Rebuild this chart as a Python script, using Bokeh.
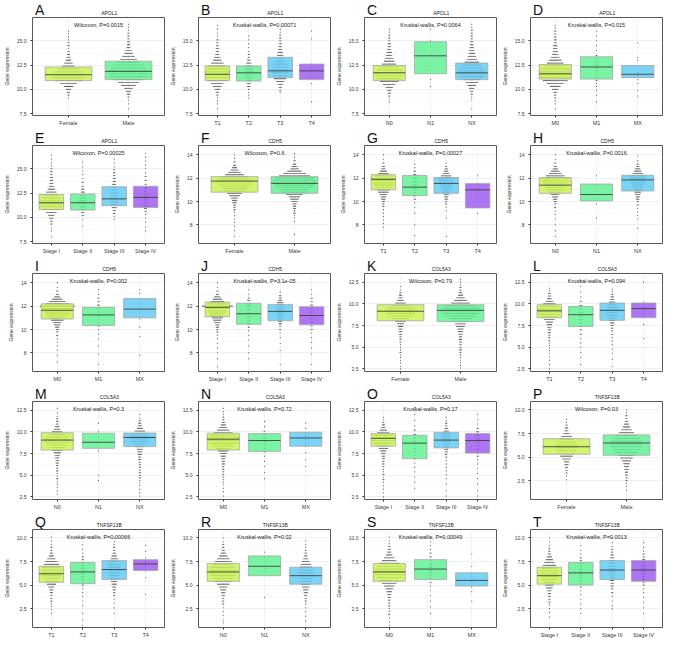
from bokeh.plotting import figure
from bokeh.layouts import gridplot
from bokeh.models import Label, FixedTicker, Range1d, NumeralTickFormatter
from bokeh.core.properties import value
from bokeh.embed import file_html
from bokeh.resources import INLINE

# ---------------- categories ----------------
SEX = ["Female", "Male"]
TCAT = ["T1", "T2", "T3", "T4"]
NCAT = ["N0", "N1", "NX"]
MCAT = ["M0", "M1", "MX"]
STAGE = ["Stage I", "Stage II", "Stage III", "Stage IV"]

# ---------------- y axes per gene ----------------
APOL1_range = [7.3, 17.4]
APOL1_ticks = [7.5, 10.0, 12.5, 15.0]
CDH5_range = [6.4, 14.8]
CDH5_ticks = [8, 10, 12, 14]
COL5A3_range = [2.2, 13.5]
COL5A3_ticks = [2.5, 5.0, 7.5, 10.0, 12.5]
TNF_range = [0.5, 10.9]
TNF_ticks = [2.5, 5.0, 7.5, 10.0]

# ---------------- box stats (q1, median, q3) per panel ----------------
A_q1 = [10.9, 11.0];  A_med = [11.5, 11.85];  A_q3 = [12.3, 12.9]
B_q1 = [10.9, 10.85, 11.2, 11.0];  B_med = [11.55, 11.7, 11.9, 11.9];  B_q3 = [12.4, 12.4, 13.3, 12.6]
C_q1 = [10.9, 11.6, 11.0];  C_med = [11.7, 13.45, 11.7];  C_q3 = [12.45, 14.9, 12.7]
D_q1 = [11.05, 11.05, 11.2];  D_med = [11.6, 12.3, 11.55];  D_q3 = [12.55, 13.35, 12.45]
E_q1 = [10.8, 10.75, 11.2, 11.0];  E_med = [11.5, 11.5, 11.9, 12.05];  E_q3 = [12.35, 12.4, 13.15, 13.2]
F_q1 = [10.8, 10.7];  F_med = [11.75, 11.55];  F_q3 = [12.13, 12.13]
G_q1 = [11.0, 10.5, 10.7, 9.45];  G_med = [11.9, 11.23, 11.55, 11.0];  G_q3 = [12.3, 12.23, 12.05, 11.55]
H_q1 = [10.7, 10.05, 10.9];  H_med = [11.4, 10.6, 11.85];  H_q3 = [12.05, 11.5, 12.25]
I_q1 = [10.9, 10.35, 11.0];  I_med = [11.65, 11.25, 11.75];  I_q3 = [12.2, 11.9, 12.65]
J_q1 = [11.1, 10.45, 10.75, 10.4];  J_med = [11.9, 11.35, 11.55, 11.2];  J_q3 = [12.35, 12.25, 12.15, 11.95]
K_q1 = [8.05, 7.95];  K_med = [9.15, 9.25];  K_q3 = [9.9, 9.9]
L_q1 = [8.4, 7.4, 8.1, 8.4];  L_med = [9.2, 8.75, 9.25, 9.45];  L_q3 = [9.9, 9.7, 10.1, 10.1]
M_q1 = [7.9, 8.1, 8.3];  M_med = [9.05, 8.8, 9.35];  M_q3 = [9.9, 9.85, 9.87]
N_q1 = [7.9, 7.75, 8.35];  N_med = [9.15, 9.0, 9.3];  N_q3 = [9.85, 9.8, 9.95]
O_q1 = [8.35, 6.9, 8.15, 7.55];  O_med = [9.25, 8.7, 9.05, 9.0];  O_q3 = [9.8, 9.6, 9.95, 9.8]
P_q1 = [5.3, 5.2];  P_med = [6.1, 6.5];  P_q3 = [6.95, 7.35]
Q_q1 = [5.3, 5.15, 5.6, 6.55];  Q_med = [6.2, 6.4, 6.65, 7.25];  Q_q3 = [7.0, 7.4, 7.6, 7.7]
R_q1 = [5.4, 6.0, 5.1];  R_med = [6.4, 7.0, 6.0];  R_q3 = [7.3, 8.1, 6.9]
S_q1 = [5.4, 5.6, 4.9];  S_med = [6.4, 6.7, 5.5];  S_q3 = [7.3, 7.7, 6.3]
T_q1 = [5.1, 5.0, 5.6, 5.4];  T_med = [6.0, 6.3, 6.6, 6.6];  T_q3 = [6.9, 7.4, 7.6, 7.6]

# ---------------- dot rows [value, count] per group ----------------
A_dots = [
    [[16.0,1],[15.7,1],[15.4,1],[15.1,1],[14.8,2],[14.5,2],[14.2,1],[13.9,2],[13.6,3],[13.3,4],[13.0,5],[12.7,8],[12.4,12],[12.1,20],[11.8,26],[11.5,30],[11.2,32],[10.9,26],[10.6,16],[10.3,9],[10.0,5],[9.7,3],[9.4,2],[9.1,1]],
    [[16.7,1],[16.4,1],[16.1,1],[15.8,2],[15.5,2],[15.2,2],[14.9,3],[14.6,3],[14.3,4],[14.0,6],[13.7,8],[13.4,12],[13.1,16],[12.8,22],[12.5,28],[12.2,34],[11.9,40],[11.6,40],[11.3,36],[11.0,28],[10.7,20],[10.4,14],[10.1,8],[9.8,5],[9.5,3],[9.2,2],[8.9,1],[8.5,1],[8.0,1]],
]
B_dots = [
    [[16.6,1],[16.2,1],[15.8,1],[15.5,1],[15.1,2],[14.8,2],[14.5,2],[14.2,3],[13.9,3],[13.6,4],[13.3,6],[13.0,8],[12.7,12],[12.4,16],[12.1,20],[11.8,24],[11.5,24],[11.2,22],[10.9,18],[10.6,12],[10.3,8],[10.0,5],[9.7,3],[9.4,2],[9.1,1],[8.8,1],[8.5,1],[8.0,1]],
    [[15.5,1],[15.1,1],[14.7,1],[14.3,1],[13.9,1],[13.6,2],[13.3,2],[13.0,3],[12.7,5],[12.4,7],[12.1,8],[11.8,9],[11.5,8],[11.2,7],[10.9,6],[10.6,4],[10.3,3],[10.0,2],[9.7,1],[9.4,1],[9.1,1]],
    [[16.2,1],[15.9,1],[15.6,2],[15.3,2],[15.0,2],[14.7,3],[14.4,3],[14.1,4],[13.8,5],[13.5,6],[13.2,8],[12.9,10],[12.6,12],[12.3,14],[12.0,16],[11.7,16],[11.4,14],[11.1,12],[10.8,8],[10.5,5],[10.2,3],[9.9,2],[9.7,1]],
    [[16.0,1],[15.2,1],[12.6,1],[12.2,2],[11.9,2],[11.4,1],[10.6,1],[8.7,1]],
]
C_dots = [
    [[16.2,1],[15.9,1],[15.6,2],[15.3,2],[15.0,2],[14.7,3],[14.4,3],[14.1,4],[13.8,5],[13.5,6],[13.2,8],[12.9,10],[12.6,14],[12.3,20],[12.0,24],[11.7,28],[11.4,28],[11.1,24],[10.8,18],[10.5,12],[10.2,7],[9.9,4],[9.6,3],[9.3,2],[9.0,1],[8.7,1]],
    [[16.2,1],[15.0,1],[14.4,1],[13.6,1],[12.7,1],[12.0,1],[11.0,1],[10.3,1]],
    [[16.7,1],[16.4,1],[16.1,2],[15.8,2],[15.5,2],[15.2,2],[14.9,3],[14.6,3],[14.3,4],[14.0,5],[13.7,6],[13.4,8],[13.1,10],[12.8,14],[12.5,18],[12.2,22],[11.9,26],[11.6,26],[11.3,24],[11.0,18],[10.7,12],[10.4,8],[10.1,5],[9.8,3],[9.5,2],[9.2,1],[8.9,1],[8.0,1]],
]
D_dots = [
    [[16.6,1],[16.3,1],[16.0,2],[15.7,2],[15.4,2],[15.1,3],[14.8,3],[14.5,4],[14.2,4],[13.9,5],[13.6,6],[13.3,8],[13.0,12],[12.7,16],[12.4,22],[12.1,28],[11.8,32],[11.5,32],[11.2,30],[10.9,24],[10.6,16],[10.3,10],[10.0,6],[9.7,4],[9.4,2],[9.1,2],[8.8,1],[8.5,1],[8.0,1]],
    [[16.0,1],[15.5,1],[15.0,1],[14.5,1],[14.0,1],[13.5,2],[13.0,2],[12.8,2],[12.5,3],[12.2,3],[11.9,2],[11.5,2],[11.2,2],[10.9,2],[10.6,1],[10.3,1],[9.9,1],[9.4,1],[8.7,1]],
    [[14.8,1],[13.3,1],[13.0,1],[12.4,1],[11.7,2],[11.4,2],[11.0,1],[10.6,1],[9.9,1],[9.3,1]],
]
E_dots = [
    [[16.4,1],[16.0,1],[15.6,1],[15.3,1],[15.0,2],[14.7,2],[14.4,2],[14.1,3],[13.8,3],[13.5,4],[13.2,5],[12.9,7],[12.6,10],[12.3,14],[12.0,18],[11.7,22],[11.4,22],[11.1,20],[10.8,16],[10.5,10],[10.2,6],[9.9,4],[9.6,2],[9.3,2],[8.9,1],[8.6,1],[8.0,1]],
    [[15.7,1],[15.2,1],[14.8,1],[14.4,1],[14.0,1],[13.6,2],[13.2,2],[12.9,3],[12.6,4],[12.3,6],[12.0,7],[11.7,7],[11.4,7],[11.1,6],[10.8,5],[10.5,3],[10.2,2],[9.8,1],[9.1,1]],
    [[16.0,1],[15.6,1],[15.2,1],[14.9,2],[14.6,2],[14.3,2],[14.0,3],[13.7,3],[13.4,4],[13.1,5],[12.8,6],[12.5,7],[12.2,8],[11.9,9],[11.6,8],[11.3,7],[11.0,5],[10.7,3],[10.4,2],[10.1,1],[9.8,1]],
    [[16.6,1],[16.2,1],[15.8,1],[15.4,1],[15.0,1],[14.6,1],[14.2,2],[13.8,2],[13.4,2],[13.0,3],[12.7,3],[12.4,4],[12.1,5],[11.8,4],[11.5,4],[11.2,4],[10.9,3],[10.6,2],[10.3,1],[9.9,1],[9.5,1],[9.0,1],[8.6,1]],
]
F_dots = [
    [[14.0,1],[13.7,1],[13.4,2],[13.1,3],[12.9,5],[12.7,8],[12.5,12],[12.3,18],[12.1,26],[11.9,32],[11.7,34],[11.5,32],[11.3,28],[11.1,24],[10.9,20],[10.7,14],[10.5,10],[10.3,7],[10.1,5],[9.9,4],[9.7,3],[9.5,2],[9.3,2],[9.1,1],[8.8,1],[8.5,1],[8.2,1],[7.9,1],[7.5,1],[7.0,1]],
    [[14.1,1],[13.8,1],[13.5,2],[13.2,3],[13.0,5],[12.8,8],[12.6,14],[12.4,22],[12.2,30],[12.0,38],[11.8,42],[11.6,42],[11.4,38],[11.2,34],[11.0,28],[10.8,22],[10.6,16],[10.4,11],[10.2,8],[10.0,6],[9.8,4],[9.6,3],[9.4,3],[9.2,2],[9.0,2],[8.8,1],[8.6,1],[8.3,1],[7.2,1]],
]
G_dots = [
    [[14.0,1],[13.6,1],[13.3,2],[13.0,3],[12.8,4],[12.6,7],[12.4,10],[12.2,16],[12.0,24],[11.8,22],[11.6,20],[11.4,18],[11.2,16],[11.0,13],[10.8,10],[10.6,7],[10.4,5],[10.2,4],[10.0,3],[9.8,2],[9.6,2],[9.3,1],[9.0,1],[8.7,1],[8.4,1],[8.1,1],[7.8,1]],
    [[13.2,1],[12.9,1],[12.6,2],[12.3,3],[12.0,4],[11.7,4],[11.4,4],[11.1,4],[10.8,3],[10.5,3],[10.2,2],[9.9,1],[9.5,1],[9.0,1],[8.0,1],[7.1,1]],
    [[13.3,1],[13.0,2],[12.8,3],[12.6,4],[12.4,6],[12.2,10],[12.0,14],[11.8,14],[11.6,14],[11.4,12],[11.2,10],[11.0,9],[10.8,7],[10.6,5],[10.4,4],[10.2,3],[10.0,2],[9.8,2],[9.5,1],[9.2,1],[8.6,1],[7.0,1]],
    [[12.2,1],[11.5,1],[11.1,1],[10.5,1],[9.0,1]],
]
H_dots = [
    [[14.0,1],[13.6,1],[13.3,2],[13.0,3],[12.8,5],[12.6,8],[12.4,12],[12.2,18],[12.0,26],[11.8,26],[11.6,24],[11.4,22],[11.2,20],[11.0,16],[10.8,12],[10.6,8],[10.4,6],[10.2,4],[10.0,3],[9.8,2],[9.5,2],[9.2,1],[8.9,1],[8.5,1],[8.0,1],[7.5,1],[7.0,1]],
    [[12.2,1],[11.4,1],[10.9,1],[10.6,1],[10.3,1],[9.8,1],[8.6,1]],
    [[13.9,1],[13.5,1],[13.2,2],[13.0,3],[12.8,5],[12.6,7],[12.4,10],[12.2,14],[12.0,16],[11.8,16],[11.6,14],[11.4,12],[11.2,10],[11.0,8],[10.8,6],[10.6,5],[10.4,4],[10.2,3],[10.0,2],[9.7,2],[9.4,1],[9.1,1],[8.8,1],[8.5,1],[7.7,1]],
]
I_dots = [
    [[14.0,1],[13.6,1],[13.3,2],[13.0,3],[12.8,6],[12.6,10],[12.4,16],[12.2,22],[12.0,34],[11.8,28],[11.6,26],[11.4,24],[11.2,20],[11.0,16],[10.8,12],[10.6,8],[10.4,6],[10.2,4],[10.0,3],[9.8,2],[9.5,2],[9.2,1],[8.9,1],[8.6,1],[8.2,1],[7.8,1],[7.2,1]],
    [[13.4,1],[13.0,1],[12.7,2],[12.4,2],[12.1,3],[11.8,3],[11.5,3],[11.2,3],[10.9,2],[10.6,2],[10.3,2],[10.0,1],[9.6,1],[9.2,1],[8.6,1],[7.9,1],[7.0,1]],
    [[13.4,1],[13.1,1],[12.6,1],[12.2,1],[11.8,1],[11.5,1],[10.9,1],[10.2,1],[9.4,1],[7.8,1]],
]
J_dots = [
    [[14.0,1],[13.6,1],[13.3,2],[13.0,3],[12.8,6],[12.6,9],[12.4,13],[12.2,18],[12.0,30],[11.8,20],[11.6,18],[11.4,16],[11.2,14],[11.0,11],[10.8,8],[10.6,6],[10.4,4],[10.2,3],[10.0,2],[9.8,2],[9.5,1],[9.2,1],[8.8,1],[8.4,1],[8.0,1],[7.5,1],[6.8,1]],
    [[13.4,1],[13.0,1],[12.7,2],[12.5,3],[12.2,4],[12.0,4],[11.7,4],[11.4,4],[11.1,4],[10.8,3],[10.5,3],[10.2,2],[9.9,1],[9.5,1],[9.1,1],[8.6,1],[8.0,1],[7.5,1]],
    [[13.2,1],[12.9,2],[12.7,3],[12.5,4],[12.3,6],[12.1,7],[11.9,8],[11.7,8],[11.5,8],[11.3,7],[11.1,6],[10.9,5],[10.7,4],[10.5,3],[10.3,2],[10.0,2],[9.7,1],[9.3,1],[8.8,1],[8.2,1],[7.0,1]],
    [[13.4,1],[13.0,1],[12.7,2],[12.4,2],[12.1,3],[11.8,3],[11.5,4],[11.2,4],[10.9,3],[10.6,3],[10.3,2],[10.0,2],[9.7,1],[9.3,1],[8.9,1],[8.4,1],[7.9,1],[7.0,1]],
]
K_dots = [
    [[12.0,1],[11.6,1],[11.3,2],[11.0,3],[10.7,4],[10.4,6],[10.1,10],[9.8,18],[9.5,26],[9.2,32],[8.9,28],[8.6,22],[8.3,16],[8.0,10],[7.7,7],[7.4,5],[7.1,4],[6.8,3],[6.5,3],[6.2,2],[5.9,2],[5.6,2],[5.3,1],[5.0,1],[4.7,1],[4.4,2],[4.1,1],[3.8,1],[3.5,1],[3.2,1],[2.8,1],[2.5,1]],
    [[12.8,1],[12.5,1],[12.2,1],[11.9,2],[11.6,2],[11.3,3],[11.0,5],[10.7,8],[10.4,12],[10.1,18],[9.8,28],[9.5,36],[9.2,40],[8.9,36],[8.6,30],[8.3,22],[8.0,16],[7.7,10],[7.4,8],[7.1,6],[6.8,5],[6.5,4],[6.2,3],[5.9,3],[5.6,3],[5.3,2],[5.0,2],[4.7,3],[4.4,2],[4.1,2],[3.8,1],[3.5,1],[3.2,1],[2.9,1],[2.6,1]],
]
L_dots = [
    [[11.8,1],[11.5,1],[11.2,2],[10.9,3],[10.6,4],[10.3,7],[10.0,12],[9.7,18],[9.4,24],[9.1,24],[8.8,20],[8.5,15],[8.2,10],[7.9,7],[7.6,5],[7.3,4],[7.0,3],[6.7,3],[6.4,2],[6.1,2],[5.8,2],[5.5,1],[5.2,1],[4.9,1],[4.6,1],[4.3,1],[3.9,1],[3.5,1],[3.0,1],[2.5,1]],
    [[12.7,1],[12.0,1],[11.4,1],[10.8,1],[10.3,2],[9.8,3],[9.4,4],[9.0,4],[8.6,5],[8.2,4],[7.8,3],[7.4,3],[7.0,2],[6.5,2],[6.0,1],[5.5,1],[5.0,1],[4.4,1],[3.8,1],[3.0,1]],
    [[11.7,1],[11.4,1],[11.1,2],[10.8,3],[10.5,4],[10.2,6],[9.9,8],[9.6,11],[9.3,13],[9.0,12],[8.7,10],[8.4,8],[8.1,6],[7.8,4],[7.5,3],[7.2,2],[6.9,2],[6.5,2],[6.1,1],[5.7,1],[5.3,1],[4.8,1],[4.3,1],[3.6,1],[2.8,1]],
    [[12.5,1],[10.2,1],[9.6,2],[9.2,1],[8.8,1],[8.4,1],[7.6,1],[6.0,1]],
]
M_dots = [
    [[12.7,1],[12.2,1],[11.8,1],[11.5,2],[11.2,2],[10.9,3],[10.6,4],[10.3,6],[10.0,10],[9.7,16],[9.4,22],[9.1,26],[8.8,24],[8.5,20],[8.2,15],[7.9,10],[7.6,7],[7.3,5],[7.0,4],[6.7,3],[6.4,3],[6.1,2],[5.8,2],[5.5,2],[5.2,1],[4.9,1],[4.6,2],[4.3,1],[4.0,1],[3.6,1],[3.2,1],[2.8,1]],
    [[11.0,1],[10.0,1],[9.2,1],[8.2,1],[7.8,1],[5.0,1],[4.4,1]],
    [[12.0,1],[11.6,1],[11.3,2],[11.0,3],[10.7,4],[10.4,6],[10.1,10],[9.8,14],[9.5,18],[9.2,18],[8.9,16],[8.6,12],[8.3,9],[8.0,6],[7.7,5],[7.4,4],[7.1,3],[6.8,3],[6.5,2],[6.2,2],[5.9,2],[5.6,2],[5.3,2],[5.0,2],[4.7,2],[4.4,1],[4.1,1],[3.8,1],[3.4,1],[3.0,1],[2.6,1]],
]
N_dots = [
    [[12.7,1],[12.3,1],[12.0,1],[11.7,2],[11.4,2],[11.1,3],[10.8,5],[10.5,8],[10.2,12],[9.9,18],[9.6,26],[9.3,32],[9.0,30],[8.7,26],[8.4,20],[8.1,14],[7.8,10],[7.5,7],[7.2,5],[6.9,4],[6.6,3],[6.3,3],[6.0,2],[5.7,2],[5.4,2],[5.1,2],[4.8,2],[4.5,1],[4.2,1],[3.9,1],[3.5,1],[3.1,1],[2.6,1]],
    [[11.2,1],[10.6,1],[10.1,2],[9.7,3],[9.3,3],[8.9,3],[8.5,2],[8.1,2],[7.7,2],[7.2,1],[6.6,1],[6.0,1],[5.3,1],[4.6,1]],
    [[11.0,1],[10.4,1],[9.9,2],[9.5,2],[9.1,2],[8.7,1],[8.3,1],[7.6,1],[6.8,1],[6.0,1]],
]
O_dots = [
    [[11.7,1],[11.4,1],[11.1,2],[10.8,3],[10.5,4],[10.2,7],[9.9,12],[9.6,18],[9.3,22],[9.0,22],[8.7,18],[8.4,13],[8.1,9],[7.8,6],[7.5,4],[7.2,3],[6.9,3],[6.6,2],[6.3,2],[6.0,2],[5.7,1],[5.4,1],[5.1,2],[4.8,1],[4.5,2],[4.2,1],[3.8,1],[3.4,1],[3.0,1],[2.5,1]],
    [[12.8,1],[12.0,1],[11.3,1],[10.7,1],[10.2,2],[9.7,3],[9.3,3],[8.9,3],[8.5,3],[8.1,3],[7.7,2],[7.3,2],[6.9,2],[6.4,1],[5.9,1],[5.4,1],[4.8,1],[4.2,1],[3.5,1]],
    [[11.7,1],[11.3,1],[11.0,2],[10.7,2],[10.4,3],[10.1,5],[9.8,7],[9.5,9],[9.2,10],[8.9,9],[8.6,7],[8.3,5],[8.0,4],[7.7,3],[7.4,2],[7.1,2],[6.7,1],[6.3,1],[5.9,1],[5.5,1],[5.1,1],[4.6,1],[4.0,1],[3.3,1],[2.6,1]],
    [[12.0,1],[11.4,1],[10.9,1],[10.4,2],[10.0,3],[9.6,4],[9.2,4],[8.8,4],[8.4,3],[8.0,3],[7.6,2],[7.2,2],[6.8,1],[6.3,1],[5.8,1],[5.2,1],[4.6,1],[4.0,1],[3.2,1],[2.6,1]],
]
P_dots = [
    [[9.0,1],[8.7,1],[8.4,2],[8.1,3],[7.8,4],[7.5,6],[7.2,10],[6.9,14],[6.6,18],[6.3,22],[6.0,22],[5.7,20],[5.4,16],[5.1,12],[4.8,8],[4.5,5],[4.2,4],[3.9,3],[3.6,2],[3.3,2],[3.0,1],[2.6,1]],
    [[10.0,1],[9.7,1],[9.4,2],[9.1,2],[8.8,3],[8.5,5],[8.2,7],[7.9,10],[7.6,14],[7.3,20],[7.0,26],[6.7,30],[6.4,32],[6.1,30],[5.8,26],[5.5,22],[5.2,16],[4.9,12],[4.6,9],[4.3,6],[4.0,5],[3.7,4],[3.4,3],[3.1,3],[2.8,2],[2.5,2],[2.2,1],[1.9,1],[1.5,1]],
]
Q_dots = [
    [[10.1,1],[9.7,1],[9.3,1],[9.0,2],[8.7,2],[8.4,3],[8.1,5],[7.8,8],[7.5,12],[7.2,15],[6.9,18],[6.6,20],[6.3,20],[6.0,18],[5.7,15],[5.4,12],[5.1,9],[4.8,6],[4.5,4],[4.2,3],[3.9,2],[3.6,2],[3.3,2],[3.0,1],[2.7,1],[2.4,1],[2.0,1]],
    [[9.3,1],[8.8,1],[8.4,1],[8.0,2],[7.7,2],[7.4,3],[7.1,3],[6.8,4],[6.5,4],[6.2,4],[5.9,3],[5.6,3],[5.3,2],[5.0,2],[4.6,1],[4.2,1],[3.8,1],[3.3,1],[2.8,1],[2.0,1],[1.3,1],[0.7,1]],
    [[10.0,1],[9.6,1],[9.3,1],[9.0,2],[8.7,2],[8.4,3],[8.1,5],[7.8,7],[7.5,10],[7.2,12],[6.9,13],[6.6,13],[6.3,12],[6.0,10],[5.7,8],[5.4,6],[5.1,5],[4.8,4],[4.5,3],[4.2,2],[3.9,2],[3.5,1],[3.1,1],[2.6,1],[2.0,1]],
    [[9.2,1],[8.6,1],[7.9,1],[7.5,2],[7.2,2],[6.9,1],[6.5,1],[5.8,1],[4.0,1]],
]
R_dots = [
    [[10.0,1],[9.6,1],[9.3,2],[9.0,2],[8.7,3],[8.4,5],[8.1,8],[7.8,12],[7.5,16],[7.2,20],[6.9,24],[6.6,26],[6.3,26],[6.0,24],[5.7,20],[5.4,16],[5.1,12],[4.8,8],[4.5,6],[4.2,4],[3.9,3],[3.6,2],[3.3,2],[3.0,2],[2.6,1],[2.2,1],[1.8,1],[1.3,1],[1.0,1]],
    [[8.5,1],[8.0,1],[7.5,1],[7.1,1],[6.8,1],[6.4,1],[3.7,1]],
    [[9.7,1],[9.3,1],[9.0,1],[8.7,2],[8.4,2],[8.1,3],[7.8,5],[7.5,7],[7.2,10],[6.9,12],[6.6,14],[6.3,16],[6.0,16],[5.7,14],[5.4,12],[5.1,9],[4.8,7],[4.5,5],[4.2,4],[3.9,3],[3.6,2],[3.3,2],[3.0,1],[2.6,1],[2.2,1],[1.7,1],[1.2,1]],
]
S_dots = [
    [[10.1,1],[9.7,1],[9.4,1],[9.1,2],[8.8,3],[8.5,4],[8.2,6],[7.9,10],[7.6,14],[7.3,20],[7.0,24],[6.7,28],[6.4,30],[6.1,28],[5.8,24],[5.5,18],[5.2,14],[4.9,10],[4.6,7],[4.3,5],[4.0,4],[3.7,3],[3.4,2],[3.1,2],[2.8,2],[2.5,1],[2.2,1],[1.9,2],[1.5,1],[1.1,1],[0.7,1]],
    [[10.0,1],[9.6,1],[9.2,1],[8.8,1],[8.4,2],[8.0,2],[7.6,2],[7.2,3],[6.9,3],[6.6,3],[6.3,3],[6.0,2],[5.7,2],[5.3,2],[4.9,1],[4.4,1],[3.9,1],[3.3,1],[2.7,1],[2.0,1]],
    [[8.3,1],[7.0,1],[6.3,1],[5.9,1],[5.6,1],[5.4,1],[4.8,1],[4.3,1],[3.3,1]],
]
T_dots = [
    [[10.0,1],[9.6,1],[9.2,1],[8.9,2],[8.6,2],[8.3,3],[8.0,5],[7.7,7],[7.4,10],[7.1,13],[6.8,16],[6.5,18],[6.2,18],[5.9,16],[5.6,14],[5.3,11],[5.0,8],[4.7,6],[4.4,4],[4.1,3],[3.8,2],[3.5,2],[3.2,2],[2.9,1],[2.5,1],[2.1,1],[1.6,1]],
    [[9.2,1],[8.7,1],[8.3,1],[7.9,2],[7.6,2],[7.3,3],[7.0,3],[6.7,4],[6.4,4],[6.1,4],[5.8,3],[5.5,3],[5.2,2],[4.8,2],[4.4,1],[4.0,1],[3.5,1],[3.0,1],[2.5,1],[2.0,1]],
    [[10.0,1],[9.5,1],[9.1,1],[8.8,2],[8.5,2],[8.2,3],[7.9,4],[7.6,5],[7.3,6],[7.0,7],[6.7,7],[6.4,7],[6.1,6],[5.8,5],[5.5,4],[5.2,3],[4.9,3],[4.6,2],[4.2,2],[3.8,1],[3.3,1],[2.8,1],[2.5,1]],
    [[9.5,1],[9.0,1],[8.6,1],[8.3,2],[8.0,2],[7.7,3],[7.4,3],[7.1,4],[6.8,4],[6.5,4],[6.2,4],[5.9,3],[5.6,3],[5.3,2],[5.0,2],[4.6,1],[4.2,1],[3.7,1],[3.2,1],[2.6,1],[2.0,1]],
]

PANELS = [
    ("A", "APOL1", "Wilcoxon, P=0.0015", SEX, A_q1, A_med, A_q3, A_dots, APOL1_range, APOL1_ticks, "0.0"),
    ("B", "APOL1", "Kruskal-wallis, P=0.00071", TCAT, B_q1, B_med, B_q3, B_dots, APOL1_range, APOL1_ticks, "0.0"),
    ("C", "APOL1", "Kruskal-wallis, P=0.0064", NCAT, C_q1, C_med, C_q3, C_dots, APOL1_range, APOL1_ticks, "0.0"),
    ("D", "APOL1", "Kruskal-wallis, P=0.015", MCAT, D_q1, D_med, D_q3, D_dots, APOL1_range, APOL1_ticks, "0.0"),
    ("E", "APOL1", "Wilcoxon, P=0.00025", STAGE, E_q1, E_med, E_q3, E_dots, APOL1_range, APOL1_ticks, "0.0"),
    ("F", "CDH5", "Wilcoxon, P=0.6", SEX, F_q1, F_med, F_q3, F_dots, CDH5_range, CDH5_ticks, "0"),
    ("G", "CDH5", "Kruskal-wallis, P=0.00027", TCAT, G_q1, G_med, G_q3, G_dots, CDH5_range, CDH5_ticks, "0"),
    ("H", "CDH5", "Kruskal-wallis, P=0.0016", NCAT, H_q1, H_med, H_q3, H_dots, CDH5_range, CDH5_ticks, "0"),
    ("I", "CDH5", "Kruskal-wallis, P=0.002", MCAT, I_q1, I_med, I_q3, I_dots, CDH5_range, CDH5_ticks, "0"),
    ("J", "CDH5", "Kruskal-wallis, P=3.1e-05", STAGE, J_q1, J_med, J_q3, J_dots, CDH5_range, CDH5_ticks, "0"),
    ("K", "COL5A3", "Wilcoxon, P=0.79", SEX, K_q1, K_med, K_q3, K_dots, COL5A3_range, COL5A3_ticks, "0.0"),
    ("L", "COL5A3", "Kruskal-wallis, P=0.094", TCAT, L_q1, L_med, L_q3, L_dots, COL5A3_range, COL5A3_ticks, "0.0"),
    ("M", "COL5A3", "Kruskal-wallis, P=0.3", NCAT, M_q1, M_med, M_q3, M_dots, COL5A3_range, COL5A3_ticks, "0.0"),
    ("N", "COL5A3", "Kruskal-wallis, P=0.72", MCAT, N_q1, N_med, N_q3, N_dots, COL5A3_range, COL5A3_ticks, "0.0"),
    ("O", "COL5A3", "Kruskal-wallis, P=0.17", STAGE, O_q1, O_med, O_q3, O_dots, COL5A3_range, COL5A3_ticks, "0.0"),
    ("P", "TNFSF13B", "Wilcoxon, P=0.03", SEX, P_q1, P_med, P_q3, P_dots, TNF_range, TNF_ticks, "0.0"),
    ("Q", "TNFSF13B", "Kruskal-wallis, P=0.00066", TCAT, Q_q1, Q_med, Q_q3, Q_dots, TNF_range, TNF_ticks, "0.0"),
    ("R", "TNFSF13B", "Kruskal-wallis, P=0.02", NCAT, R_q1, R_med, R_q3, R_dots, TNF_range, TNF_ticks, "0.0"),
    ("S", "TNFSF13B", "Kruskal-wallis, P=0.00049", MCAT, S_q1, S_med, S_q3, S_dots, TNF_range, TNF_ticks, "0.0"),
    ("T", "TNFSF13B", "Kruskal-wallis, P=0.0013", STAGE, T_q1, T_med, T_q3, T_dots, TNF_range, TNF_ticks, "0.0"),
]

# ---------------- styling ----------------
W = 166
HH = 17          # header strip (panel letter + gene name)
H = 111          # plot part
LB, RB, TB, BB = 29, 2, 0, 11
FW = W - LB - RB
COLORS = ["#c9f24e", "#5df290", "#5ec9f3", "#9b57ee"]
FONT = "Liberation Sans"
BOX_W = 0.78
DOT_STEP = 1.05  # px between stacked dots


def make_header(letter, gene):
    h = figure(width=W, height=HH, x_range=Range1d(0, W), y_range=Range1d(0, HH),
               output_backend="svg", toolbar_location=None,
               x_axis_type=None, y_axis_type=None,
               min_border_left=0, min_border_right=0, min_border_top=0, min_border_bottom=0)
    h.outline_line_color = None
    h.xgrid.visible = False
    h.ygrid.visible = False
    h.background_fill_color = "white"
    h.border_fill_color = "white"
    h.text(x=[3], y=[0], text=[letter], text_font=value(FONT), text_font_size=value("14px"),
           text_baseline="bottom", text_align="left", text_color="#111111")
    h.text(x=[LB + FW / 2], y=[1.5], text=[gene], text_font=value(FONT), text_font_size=value("5px"),
           text_baseline="bottom", text_align="center", text_color="#222222")
    return h


def make_panel(letter, gene, stat, cats, q1, med, q3, dots, yr, yticks, fmt):
    n = len(cats)
    p = figure(width=W, height=H, x_range=Range1d(0.4, n + 0.6), y_range=Range1d(yr[0], yr[1]),
               output_backend="svg", toolbar_location=None,
               min_border_left=LB, min_border_right=RB, min_border_top=TB, min_border_bottom=BB)
    p.background_fill_color = "white"
    p.border_fill_color = "white"
    p.outline_line_color = "#595959"
    p.outline_line_width = 1

    xs_pos = list(range(1, n + 1))
    p.xaxis.ticker = FixedTicker(ticks=xs_pos)
    p.xaxis.major_label_overrides = {i + 1: c for i, c in enumerate(cats)}
    minor = [(a + b) / 2 for a, b in zip(yticks[:-1], yticks[1:])]
    p.yaxis.ticker = FixedTicker(ticks=yticks, minor_ticks=minor)
    p.yaxis.formatter = NumeralTickFormatter(format=fmt)
    p.yaxis.axis_label = "Gene expression"

    for ax in (p.xaxis[0], p.yaxis[0]):
        ax.axis_line_color = None
        ax.major_tick_line_color = "#333333"
        ax.major_tick_out = 2
        ax.major_tick_in = 0
        ax.minor_tick_line_color = None
        ax.major_label_text_font = FONT
        ax.major_label_text_color = "#3a3a3a"
        ax.major_label_standoff = 2
    p.xaxis.major_label_text_font_size = "5.5px"
    p.yaxis.major_label_text_font_size = "5px"
    p.yaxis.axis_label_text_font = FONT
    p.yaxis.axis_label_text_font_size = "5px"
    p.yaxis.axis_label_text_font_style = "normal"
    p.yaxis.axis_label_text_color = "#333333"
    p.yaxis.axis_label_standoff = 4

    p.xgrid.grid_line_color = "#ebebeb"
    p.xgrid.grid_line_width = 0.6
    p.ygrid.grid_line_color = "#e6e6e6"
    p.ygrid.grid_line_width = 0.6
    p.ygrid.minor_grid_line_color = "#f3f3f3"
    p.ygrid.minor_grid_line_width = 0.5

    # stacked dots (dot plot)
    px_per_unit = FW / (n + 0.2)
    dx = DOT_STEP / px_per_unit
    dxs, dys = [], []
    for i, rows in enumerate(dots):
        for v, c in rows:
            for k in range(c):
                dxs.append(i + 1 + (k - (c - 1) / 2) * dx)
                dys.append(v)
    p.scatter(dxs, dys, size=1.15, color="#1a1a1a", alpha=0.72, line_width=0)

    # boxes drawn over the dots, slightly translucent
    p.quad(left=[x - BOX_W / 2 for x in xs_pos], right=[x + BOX_W / 2 for x in xs_pos],
           bottom=q1, top=q3, fill_color=COLORS[:n], fill_alpha=0.82,
           line_color="#a6a6a6", line_width=0.8)

    # medians
    p.segment(x0=[x - BOX_W / 2 for x in xs_pos], x1=[x + BOX_W / 2 for x in xs_pos],
              y0=med, y1=med, line_color="#404040", line_width=0.9)

    p.add_layout(Label(x=(n + 1) / 2, y=yr[1], y_offset=-4, text=stat, text_align="center",
                       text_baseline="top", text_font=FONT, text_font_size="5.5px",
                       text_color="#222222"))
    return p


rows = []
for r in range(5):
    chunk = PANELS[r * 4:(r + 1) * 4]
    rows.append([make_header(pn[0], pn[1]) for pn in chunk])
    rows.append([make_panel(*pn) for pn in chunk])
grid = gridplot(rows, toolbar_location=None)

open("out.html", "w").write(file_html(grid, INLINE))
